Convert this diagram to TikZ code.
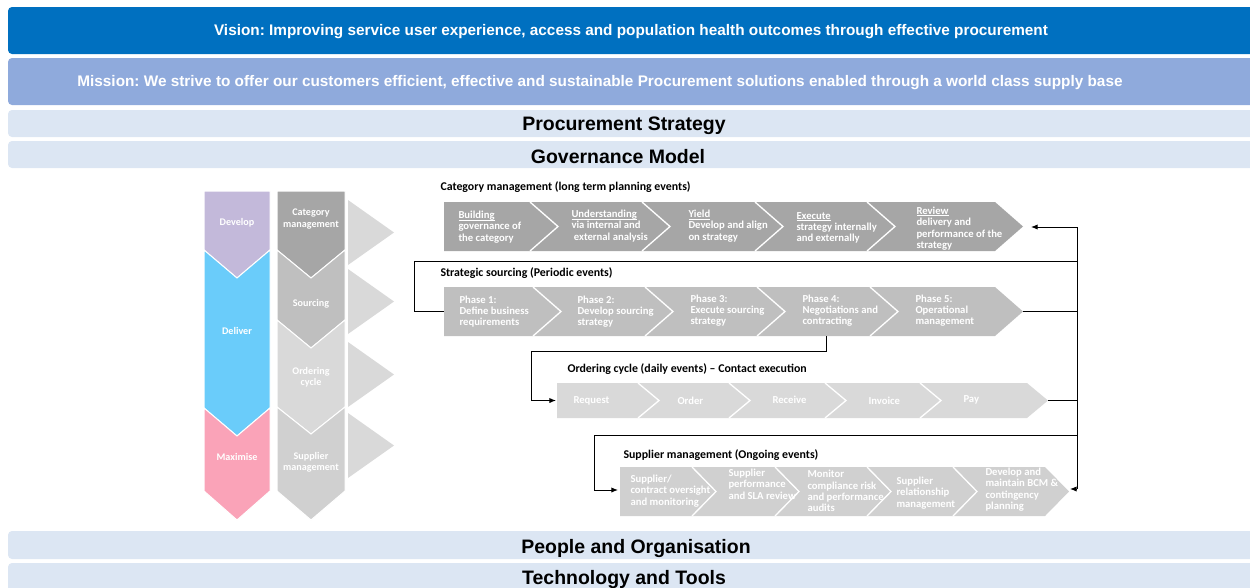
\documentclass[tikz,border=0pt]{standalone}
\usepackage{fontspec}
\setmainfont{Liberation Sans}
\newfontfamily\calibri{Carlito}
\usetikzlibrary{arrows.meta}
\frenchspacing

\definecolor{visionblue}{RGB}{0,112,192}
\definecolor{missionblue}{RGB}{143,170,220}
\definecolor{bandblue}{RGB}{220,230,243}
\definecolor{developc}{RGB}{195,185,218}
\definecolor{deliverc}{RGB}{106,204,250}
\definecolor{maximisec}{RGB}{250,163,184}
\definecolor{greyA}{RGB}{166,166,166}
\definecolor{greyB}{RGB}{191,191,191}
\definecolor{greyC}{RGB}{217,217,217}
\definecolor{greyD}{RGB}{208,208,208}

% underline that sits just below the baseline
\newcommand\headword[1]{\setbox0\hbox{#1}\rlap{\rule[-1.3pt]{\wd0}{0.45pt}}\box0}

\tikzset{every picture/.style={line width=0.75pt}}
\tikzset{
  band/.style={rounded corners=3, draw=none},
  bandtext/.style={font=\bfseries\fontsize{14.6}{16}\selectfont, inner sep=0},
  toptext/.style={font=\bfseries\fontsize{11.5}{13}\selectfont, text=white, inner sep=0},
  colchev/.style={draw=white, line width=0.75pt},
  cut/.style={draw=white, line width=1pt},
  coltext/.style={text=white, font=\calibri\bfseries\fontsize{7.6}{8.3}\selectfont, align=center, inner sep=0},
  chevtext/.style={text=white, font=\calibri\bfseries\fontsize{8}{8.5}\selectfont, align=left, anchor=west, inner sep=0},
  rowtitle/.style={font=\calibri\bfseries\fontsize{8.9}{10}\selectfont, anchor=west, inner sep=0},
  link/.style={draw=black, line width=0.75pt},
  linkarrow/.style={link, -{Latex[length=5pt,width=4pt]}},
}

\begin{document}
\begin{tikzpicture}[x=0.75pt,y=0.75pt,yscale=-1,xscale=1]
	\useasboundingbox (0,0) rectangle (1250,587);

	% Bands
	\draw [band, fill=visionblue] (8,7) rectangle (1262,54);
	\draw [band, fill=missionblue] (8,58) rectangle (1262,105);
	\draw [band, fill=bandblue] (8,110) rectangle (1262,137);
	\draw [band, fill=bandblue] (8,141) rectangle (1262,168);
	\draw [band, fill=bandblue] (8,531) rectangle (1262,559);
	\draw [band, fill=bandblue] (8,563) rectangle (1262,595);

	% Text Node
	\node [toptext] (vision) at (631,32) {Vision: Improving service user experience, access and population health outcomes through effective procurement};
	% Text Node
	\node [toptext] (mission) at (600,83) {Mission: We strive to offer our customers efficient, effective and sustainable Procurement solutions enabled through a world class supply base};
	% Text Node
	\node [bandtext] (strategy) at (624,126) {Procurement Strategy};
	% Text Node
	\node [bandtext] (governance) at (618,157) {Governance Model};
	% Text Node
	\node [bandtext] (people) at (636,548) {People and Organisation};
	% Text Node
	\node [bandtext] (technology) at (624,579) {Technology and Tools};

	%Shape: Chevron column (develop / deliver / maximise)
	\draw [colchev, fill=developc] (204,191) -- (270,191) -- (270,250) -- (237,278) -- (204,250) -- cycle ;
	\draw [colchev, fill=deliverc] (204,250) -- (237,278) -- (270,250) -- (270,408) -- (237,436) -- (204,408) -- cycle ;
	\draw [colchev, fill=maximisec] (204,408) -- (237,436) -- (270,408) -- (270,491) -- (237,520) -- (204,491) -- cycle ;
	%Shape: Chevron column (events)
	\draw [colchev, fill=greyA] (277,191) -- (345,191) -- (345,250) -- (311,278) -- (277,250) -- cycle ;
	\draw [colchev, fill=greyB] (277,250) -- (311,278) -- (345,250) -- (345,320) -- (311,348) -- (277,320) -- cycle ;
	\draw [colchev, fill=greyC] (277,320) -- (311,348) -- (345,320) -- (345,407) -- (311,434) -- (277,407) -- cycle ;
	\draw [colchev, fill=greyD] (277,407) -- (311,434) -- (345,407) -- (345,491) -- (311,520) -- (277,491) -- cycle ;
	%Shape: Triangles
	\fill [greyC] (348,200) -- (394,232.5) -- (348,265) -- cycle ;
	\fill [greyC] (348,269) -- (394,301.5) -- (348,334) -- cycle ;
	\fill [greyC] (348,342) -- (394,374.5) -- (348,407) -- cycle ;
	\fill [greyC] (348,413) -- (394,445.5) -- (348,478) -- cycle ;

	% Text Node
	\node [coltext] (develop) at (237,223) {Develop};
	\node [coltext] (deliver) at (237,331) {Deliver};
	\node [coltext] (maximise) at (237,457) {Maximise};
	\node [coltext] (catcol) at (311,219) {Category\\management};
	\node [coltext] (srccol) at (311,304) {Sourcing};
	\node [coltext] (ordcol) at (311,377) {Ordering\\cycle};
	\node [coltext] (supcol) at (311,462) {Supplier\\management};

	%Shape: Category management row
	\fill [greyA] (444,202) -- (995,202) -- (1023,226.5) -- (995,251) -- (444,251) -- cycle ;
	\draw [cut] (530,202) -- (558,226.5) -- (530,251) ;
	\draw [cut] (642,202) -- (670,226.5) -- (642,251) ;
	\draw [cut] (755,202) -- (783,226.5) -- (755,251) ;
	\draw [cut] (867,202) -- (895,226.5) -- (867,251) ;

	%Shape: Strategic sourcing row
	\fill [greyB] (444,287) -- (995,287) -- (1023,311.5) -- (995,336) -- (444,336) -- cycle ;
	\draw [cut] (533,287) -- (561,311.5) -- (533,336) ;
	\draw [cut] (645,287) -- (673,311.5) -- (645,336) ;
	\draw [cut] (757,287) -- (785,311.5) -- (757,336) ;
	\draw [cut] (870,287) -- (898,311.5) -- (870,336) ;

	%Shape: Ordering cycle row
	\fill [greyC] (557,383) -- (1027,383) -- (1048,400.5) -- (1027,418) -- (557,418) -- cycle ;
	\draw [cut] (638,383) -- (659,400.5) -- (638,418) ;
	\draw [cut] (729,383) -- (750,400.5) -- (729,418) ;
	\draw [cut] (825,383) -- (846,400.5) -- (825,418) ;
	\draw [cut] (920,383) -- (941,400.5) -- (920,418) ;

	%Shape: Supplier management row
	\fill [greyD] (620,467) -- (1045,467) -- (1069,491.5) -- (1045,516) -- (620,516) -- cycle ;
	\draw [cut] (692,467) -- (716,491.5) -- (692,516) ;
	\draw [cut] (775,467) -- (799,491.5) -- (775,516) ;
	\draw [cut] (867,467) -- (891,491.5) -- (867,516) ;
	\draw [cut] (953,467) -- (977,491.5) -- (953,516) ;

	% Row titles
	\node [rowtitle] (cattitle) at (440,187) {Category management (long term planning events)};
	\node [rowtitle] (srctitle) at (440,273) {Strategic sourcing (Periodic events)};
	\node [rowtitle] (ordtitle) at (567,369) {Ordering cycle (daily events) \textendash\ Contact execution};
	\node [rowtitle] (suptitle) at (623,455) {Supplier management (Ongoing events)};

	% Text Node
	\node [chevtext] (cat1) at (458,227) {\headword{Building}\\governance of\\the category};
	\node [chevtext] (cat2) at (571,226) {\headword{Understanding}\\via internal and\\\ external analysis};
	\node [chevtext] (cat3) at (688,226) {\headword{Yield}\\Develop and align\\on strategy};
	\node [chevtext] (cat4) at (796,228) {\headword{Execute}\\strategy internally\\and externally};
	\node [chevtext] (cat5) at (916,228.5) {\headword{Review}\\delivery and\\performance of the\\strategy};

	\node [chevtext] (src1) at (459,311.5) {Phase 1:\\Define business\\requirements};
	\node [chevtext] (src2) at (577,311.5) {Phase 2:\\Develop sourcing\\strategy};
	\node [chevtext] (src3) at (690,310.5) {Phase 3:\\Execute sourcing\\strategy};
	\node [chevtext] (src4) at (802,310.5) {Phase 4:\\Negotiations and\\contracting};
	\node [chevtext] (src5) at (915,310.5) {Phase 5:\\Operational\\management};

	\node [chevtext] (ord1) at (573,401) {Request};
	\node [chevtext] (ord2) at (677,400.5) {Order};
	\node [chevtext] (ord3) at (772,400) {Receive};
	\node [chevtext] (ord4) at (868,400.5) {Invoice};
	\node [chevtext] (ord5) at (963,400) {Pay};

	\node [chevtext] (sup1) at (630,491) {Supplier/\\contract oversight\\and monitoring};
	\node [chevtext] (sup2) at (728,484) {Supplier\\performance\\and SLA review};
	\node [chevtext] (sup3) at (807,491) {Monitor\\compliance risk\\and performance\\audits};
	\node [chevtext] (sup4) at (896,493) {Supplier\\relationship\\management};
	\node [chevtext] (sup5) at (985,489.5) {Develop and\\maintain BCM \&\\contingency\\planning};

	% Connector ends
	\coordinate (railtop) at (1077,227);
	\coordinate (railbot) at (1077,489);
	\coordinate (catin) at (1031,227);
	\coordinate (supin) at (1070,489);
	\coordinate (loopsrc) at (414,261);
	\coordinate (srcin) at (444,311.5);
	\coordinate (srcout) at (1023,311.5);
	\coordinate (ph4) at (826,336);
	\coordinate (ph4drop) at (826,351);
	\coordinate (loopord) at (531,351);
	\coordinate (ordin) at (556,400.5);
	\coordinate (ordout) at (1048,400.5);
	\coordinate (loopsup) at (594,435);
	\coordinate (supleft) at (618,490);

	%Straight Lines
	\draw [link] (railtop) -- (railbot) ;
	\draw [linkarrow] (railtop) -- (catin) ;
	\draw [linkarrow] (railbot) -- (supin) ;
	\draw [link] (railtop |- loopsrc) -- (loopsrc) |- (srcin) ;
	\draw [link] (srcout) -- (railtop |- srcout) ;
	\draw [linkarrow] (ph4) -- (ph4drop) -- (loopord) |- (ordin) ;
	\draw [link] (ordout) -- (railtop |- ordout) ;
	\draw [linkarrow] (railtop |- loopsup) -- (loopsup) |- (supleft) ;

\end{tikzpicture}
\end{document}
